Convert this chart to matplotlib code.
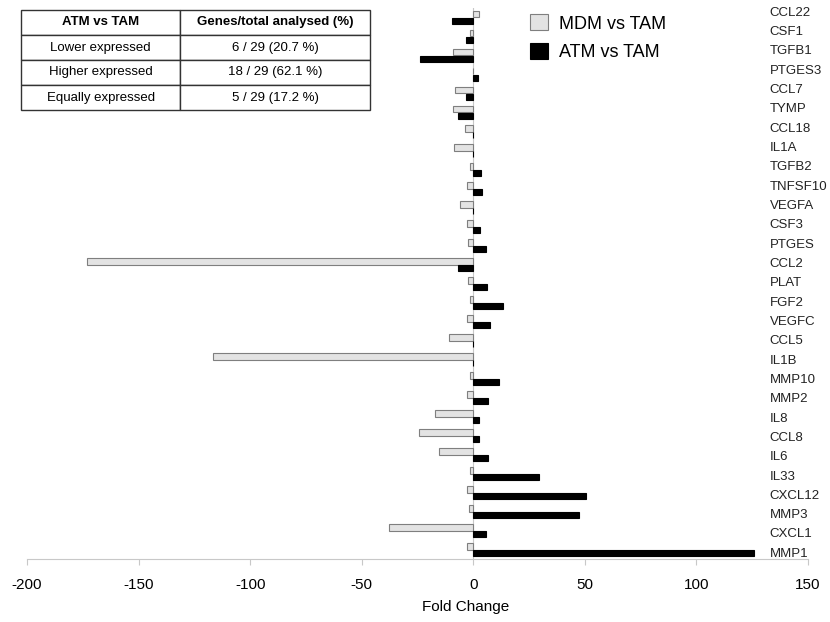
import numpy as np
import matplotlib
matplotlib.use("Agg")
import matplotlib.pyplot as plt
import matplotlib.transforms as mtransforms

plt.rcParams['font.family'] = ['Liberation Sans', 'DejaVu Sans']
plt.rcParams['axes.unicode_minus'] = False

# genes, top to bottom
genes = ["CCL22", "CSF1", "TGFB1", "PTGES3", "CCL7", "TYMP", "CCL18", "IL1A",
         "TGFB2", "TNFSF10", "VEGFA", "CSF3", "PTGES", "CCL2", "PLAT", "FGF2",
         "VEGFC", "CCL5", "IL1B", "MMP10", "MMP2", "IL8", "CCL8", "IL6",
         "IL33", "CXCL12", "MMP3", "CXCL1", "MMP1"]

# fold changes
mdm_vs_tam = [2.7, -1.5, -9.0, 0.0, -8.4, -9.3, -3.9, -8.7,
              -1.5, -3.0, -6.0, -3.0, -2.4, -173.0, -2.4, -1.5,
              -3.0, -10.9, -116.5, -1.5, -3.0, -17.2, -24.4, -15.4,
              -1.5, -3.0, -2.0, -37.9, -3.0]
atm_vs_tam = [-9.7, -3.4, -24.0, 2.1, -3.4, -6.9, 0.0, 0.0,
              3.3, 3.9, 0.0, 3.0, 5.7, -6.7, 6.3, 13.3,
              7.5, 0.0, 0.0, 11.7, 6.7, 2.7, 2.7, 6.4,
              29.5, 50.4, 47.5, 5.5, 125.6]

table_rows = [["ATM vs TAM", "Genes/total analysed (%)"],
              ["Lower expressed", "6 / 29 (20.7 %)"],
              ["Higher expressed", "18 / 29 (62.1 %)"],
              ["Equally expressed", "5 / 29 (17.2 %)"]]

fig = plt.figure(figsize=(8.3, 6.22), dpi=100)
ax = fig.add_axes([27/830, 63/622, 781/830, 551/622])

y = np.arange(len(genes))
h = 0.36
ax.barh(y - h/2, mdm_vs_tam, height=h, color="#e3e3e3", edgecolor="#7f7f7f",
        linewidth=0.8, label="MDM vs TAM")
ax.barh(y + h/2, atm_vs_tam, height=h, color="black", edgecolor="black",
        linewidth=0.8, label="ATM vs TAM")

ax.set_ylim(len(genes) - 0.5, -0.5)
ax.set_xlim(-200, 150)
ax.set_xticks([-200, -150, -100, -50, 0, 50, 100, 150])
ax.set_yticks([])
ax.tick_params(axis="x", labelsize=11, length=4, color="#c8c8c8", pad=10)
for s in ["top", "right", "left"]:
    ax.spines[s].set_visible(False)
ax.spines["bottom"].set_color("#c8c8c8")
ax.axvline(0, color="#c8c8c8", lw=0.8, zorder=0)

ax.set_xlabel("Fold Change", fontsize=11)
ax.xaxis.set_label_coords(0.561, -0.075)

# gene labels on the right, inside the plot
trans = mtransforms.blended_transform_factory(ax.transAxes, ax.transData)
for i, g in enumerate(genes):
    ax.text(0.951, i - 0.25 + i * 0.017, g, transform=trans, fontsize=9.5,
            ha="left", va="center", color="#222222")

leg = ax.legend(loc="upper left", bbox_to_anchor=(0.623, 1.018), frameon=False,
                fontsize=13, handlelength=1.0, handleheight=1.0,
                handletextpad=0.6, labelspacing=0.55)

# summary table
tax = fig.add_axes([21/830, (622-110)/622, 349/830, 100/622])
tax.axis("off")
tbl = tax.table(cellText=table_rows, cellLoc="center", bbox=[0, 0, 1, 1],
                colWidths=[0.456, 0.544])
tbl.auto_set_font_size(False)
for (r, c), cell in tbl.get_celld().items():
    cell.set_linewidth(1.0)
    cell.set_edgecolor("#333333")
    cell.get_text().set_fontsize(9.5)
    if r == 0:
        cell.get_text().set_fontweight("bold")

fig.savefig("out.png", dpi=100)
